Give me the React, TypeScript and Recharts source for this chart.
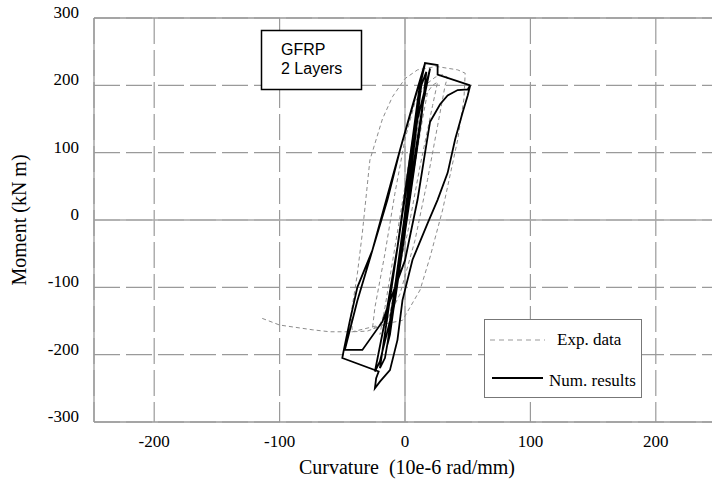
import { LineChart, Line, XAxis, YAxis, CartesianGrid, ReferenceLine } from "recharts";

// experimental hysteresis (curvature, moment)
const expCurvature = [
  0, 4, 8, 10, 7, 0, -5, -9, -11, -7, 0,
  6, 12, 16, 18, 14, 6, -4, -12, -18, -20, -16, -8, 0,
  6, 14, 22, 26, 22, 12, 2, -10, -20, -26, -24, -16, -8, 0, 8,
  16, 24, 30, 34, 32, 26, 18, 8, -4, -16, -30, -42,
  -43, -38, -34, -28, -18, -10, 0, 10, 25, 42, 48, 47, 42, 30, 20, 12, -2, -20, -42, -60, -74, -100, -114
];
const expMoment = [
  0, 60, 120, 150, 110, 10, -70, -130, -150, -100, 0,
  90, 160, 185, 190, 150, 60, -60, -140, -165, -170, -130, -40, 50,
  120, 180, 200, 205, 170, 80, -20, -110, -155, -162, -130, -50, 40, 120, 175,
  200, 212, 216, 212, 200, 140, 60, -30, -110, -155, -165, -166,
  -140, -80, -19, 89, 150, 183, 210, 223, 228, 223, 218, 180, 119, 15, -55, -104, -149, -156, -166, -166, -163, -156, -146
];

// numerical results
const numCurvature = [
  0, 5, 10, 12, 8, 0, -6, -12, -14, -8, 0,
  7, 13, 17, 13, 3, -8, -16, -20, -13, -2,
  10, 20, 14, 0, -12, -20, -24, -16, -6,
  6, 11, 16, -4, -26, -38, -48, -34, -18, 0, 10, 16, 20, 28, 34, 42, 50, 52,
  50, 46, 40, 34, 26, 18, 6, -2, -6, -12, -20, -24, -23, -21,
  -50, -49, -44, -38, -26, -14, -4, 6, 16, 26, 26, 52
];
const numMoment = [
  0, 80, 160, 185, 120, 5, -90, -170, -185, -100, 10,
  110, 200, 220, 150, 20, -120, -205, -220, -130, 10,
  150, 225, 170, 0, -150, -210, -225, -150, -40,
  120, 190, 233, 104, -45, -120, -193, -193, -151, -60, 30, 100, 146, 172, 185, 193, 194, 200,
  185, 160, 120, 70, 30, -5, -59, -119, -178, -223, -240, -250, -235, -225,
  -205, -195, -150, -100, -45, 30, 104, 170, 233, 230, 216, 200
];

const xTicks = [-200, -100, 0, 100, 200];
const yTicks = [-300, -200, -100, 0, 100, 200, 300];

const expData = expCurvature.map((x, i) => ({ x, y: expMoment[i] }));
const numData = numCurvature.map((x, i) => ({ x, y: numMoment[i] }));

const serif = "'Liberation Serif', 'Times New Roman', serif";

function XTick(props: any) {
  const { x, y, payload } = props;
  return (
    <text x={x} y={y + 25} textAnchor="middle" fontFamily={serif} fontSize={17} fill="#000">
      {payload.value}
    </text>
  );
}

function YTick(props: any) {
  const { y, payload } = props;
  return (
    <text x={79} y={y} textAnchor="end" fontFamily={serif} fontSize={17} fill="#000">
      {payload.value}
    </text>
  );
}

export default function App() {
  return (
    <div style={{ position: "absolute", left: 0, top: 0, width: 712, height: 490, overflow: "hidden", background: "#fff" }}>
      <LineChart width={730} height={490} margin={{ top: 18, right: 14, left: 0, bottom: 0 }}>
        <CartesianGrid stroke="#9a9a9a" strokeWidth={1.2} strokeDasharray="26 6" />
        <XAxis
          type="number"
          dataKey="x"
          domain={[-248, 248]}
          ticks={xTicks}
          height={68}
          tickLine={false}
          tickSize={0}
          tickMargin={0}
          tick={<XTick />}
          axisLine={{ stroke: "#999", strokeWidth: 1.3 }}
          allowDataOverflow
        />
        <YAxis
          type="number"
          dataKey="y"
          domain={[-300, 300]}
          ticks={yTicks}
          width={94}
          tickLine={false}
          tickSize={0}
          tickMargin={0}
          tick={<YTick />}
          axisLine={{ stroke: "#999", strokeWidth: 1.3 }}
        />
        <ReferenceLine x={0} stroke="#aaa" strokeWidth={1.3} />
        <ReferenceLine y={0} stroke="#aaa" strokeWidth={1.3} />
        <ReferenceLine y={300} stroke="#999" strokeWidth={1.3} />
        <Line
          data={expData}
          dataKey="y"
          type="linear"
          stroke="#8c8c8c"
          strokeWidth={1}
          strokeDasharray="4 3"
          dot={false}
          isAnimationActive={false}
        />
        <Line
          data={numData}
          dataKey="y"
          type="linear"
          stroke="#000"
          strokeWidth={1.8}
          dot={false}
          isAnimationActive={false}
        />
      </LineChart>

      <svg width={712} height={490} style={{ position: "absolute", left: 0, top: 0, pointerEvents: "none" }}>
        <text
          transform="translate(26 220) rotate(-90)"
          textAnchor="middle"
          fontFamily={serif}
          fontSize={20}
          fill="#000"
        >
          Moment (kN m)
        </text>
        <text x={407} y={474} textAnchor="middle" fontFamily={serif} fontSize={20} fill="#000" style={{ whiteSpace: "pre" }}>
          {"Curvature  (10e-6 rad/mm)"}
        </text>

        <rect x={261.5} y={30.5} width={100} height={59} fill="#fff" stroke="#000" strokeWidth={1.5} />
        <text x={281} y={55} fontFamily="'Liberation Sans', Arial, sans-serif" fontSize={16} fill="#000">GFRP</text>
        <text x={281} y={74} fontFamily="'Liberation Sans', Arial, sans-serif" fontSize={16} fill="#000">2 Layers</text>

        <rect x={484.5} y={319.5} width={157} height={78} fill="#fff" stroke="#777" strokeWidth={1} />
        <line x1={490} y1={340} x2={545} y2={340} stroke="#999" strokeWidth={1} strokeDasharray="5 4" />
        <text x={557} y={345} fontFamily={serif} fontSize={17} fill="#000">Exp. data</text>
        <line x1={492} y1={378} x2={543} y2={378} stroke="#000" strokeWidth={2} />
        <text x={549} y={386} fontFamily={serif} fontSize={17} fill="#000">Num. results</text>
      </svg>
    </div>
  );
}
